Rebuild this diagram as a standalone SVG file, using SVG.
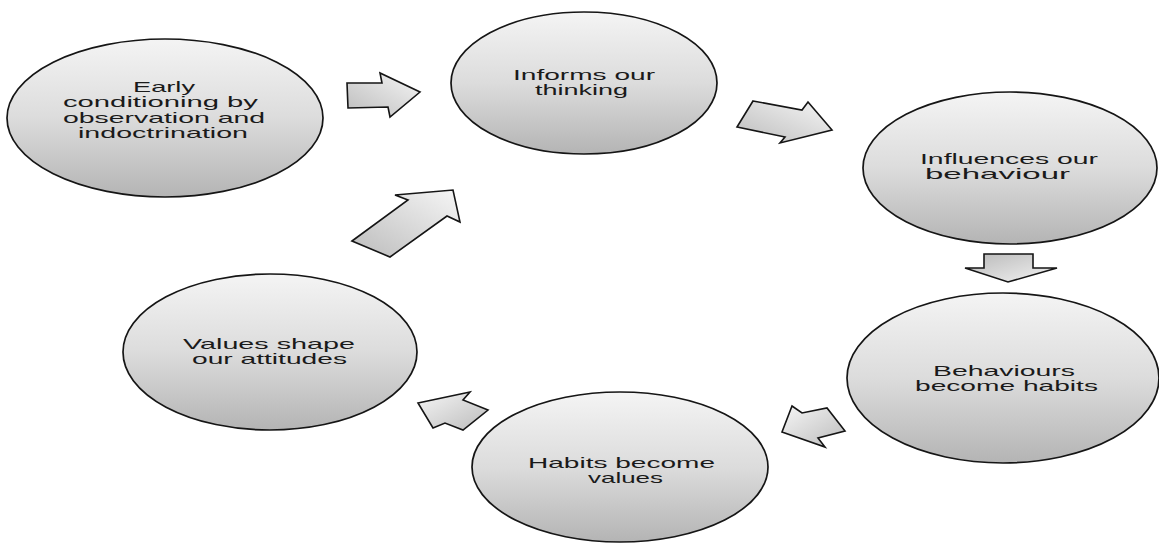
<svg xmlns="http://www.w3.org/2000/svg" width="1159" height="544" viewBox="0 0 1159 544">
<defs>
<linearGradient id="gEll" x1="0" y1="0" x2="0" y2="1">
<stop offset="0" stop-color="#f4f4f4"/>
<stop offset="0.5" stop-color="#dcdcdc"/>
<stop offset="1" stop-color="#b4b4b4"/>
</linearGradient>
<linearGradient id="gArr" x1="0" y1="1" x2="1" y2="0">
<stop offset="0" stop-color="#bcbcbc"/>
<stop offset="1" stop-color="#f6f6f6"/>
</linearGradient>
<linearGradient id="gArrL" x1="1" y1="1" x2="0" y2="0">
<stop offset="0" stop-color="#bcbcbc"/>
<stop offset="1" stop-color="#f6f6f6"/>
</linearGradient>
<linearGradient id="gArrD" x1="0" y1="0" x2="1" y2="1">
<stop offset="0" stop-color="#b8b8b8"/>
<stop offset="1" stop-color="#f4f4f4"/>
</linearGradient>
</defs>
<style>
.ell{fill:url(#gEll);stroke:#151515;stroke-width:1.7}
.arr{stroke:#151515;stroke-width:1.6;stroke-linejoin:miter}
.t{font-family:"Liberation Sans",Arial,sans-serif;font-size:15px;fill:#1a1a1a}
</style>
<rect width="1159" height="544" fill="#ffffff"/>

<g id="connectors">
<polygon class="arr" fill="url(#gArr)" points="347,83 382,83 380,73 420,92 390,117 388,107 348,108"/>
<polygon class="arr" fill="url(#gArr)" points="753,101 802,110 808,102 832,130 780,143 785,137 737,127"/>
<polygon class="arr" fill="url(#gArrD)" points="984,254 1033,254 1033,268 1057,268 1008,282 965,268 984,268"/>
<polygon class="arr" fill="url(#gArrL)" points="792,406 802,413 827,408 845,431 818,438 825,447 782,432"/>
<polygon class="arr" fill="url(#gArrL)" points="418,403 470,392 463,400 488,410 463,430 445,423 433,428"/>
<polygon class="arr" fill="url(#gArr)" points="352,241 408,200 395,195 453,190 460,222 447,216 390,257"/>
</g>

<g id="node-early">
<ellipse class="ell" cx="165" cy="118" rx="158" ry="79"/>
<text class="t" x="133" y="92" textLength="62" lengthAdjust="spacingAndGlyphs">Early</text>
<text class="t" x="63" y="107" textLength="195" lengthAdjust="spacingAndGlyphs">conditioning by</text>
<text class="t" x="63" y="123" textLength="202" lengthAdjust="spacingAndGlyphs">observation and</text>
<text class="t" x="78" y="138" textLength="170" lengthAdjust="spacingAndGlyphs">indoctrination</text>
</g>

<g id="node-informs">
<ellipse class="ell" cx="584" cy="83" rx="133" ry="71"/>
<text class="t" x="513" y="80" textLength="142" lengthAdjust="spacingAndGlyphs">Informs our</text>
<text class="t" x="535" y="95" textLength="93" lengthAdjust="spacingAndGlyphs">thinking</text>
</g>

<g id="node-influences">
<ellipse class="ell" cx="1010" cy="168" rx="147" ry="76"/>
<text class="t" x="920" y="164" textLength="178" lengthAdjust="spacingAndGlyphs">Influences our</text>
<text class="t" x="925" y="179" textLength="145" lengthAdjust="spacingAndGlyphs">behaviour</text>
</g>

<g id="node-behaviours">
<ellipse class="ell" cx="1003" cy="378" rx="156" ry="85"/>
<text class="t" x="933" y="376" textLength="142" lengthAdjust="spacingAndGlyphs">Behaviours</text>
<text class="t" x="915" y="391" textLength="183" lengthAdjust="spacingAndGlyphs">become habits</text>
</g>

<g id="node-habits">
<ellipse class="ell" cx="620" cy="467" rx="148" ry="75"/>
<text class="t" x="528" y="468" textLength="187" lengthAdjust="spacingAndGlyphs">Habits become</text>
<text class="t" x="588" y="483" textLength="75" lengthAdjust="spacingAndGlyphs">values</text>
</g>

<g id="node-values">
<ellipse class="ell" cx="270" cy="352" rx="147" ry="78"/>
<text class="t" x="183" y="349" textLength="172" lengthAdjust="spacingAndGlyphs">Values shape</text>
<text class="t" x="192" y="364" textLength="155" lengthAdjust="spacingAndGlyphs">our attitudes</text>
</g>
</svg>
